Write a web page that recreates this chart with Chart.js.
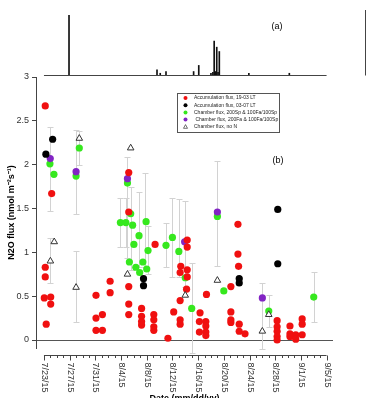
<!DOCTYPE html>
<html>
<head>
<meta charset="utf-8">
<script src="https://cdn.jsdelivr.net/npm/chart.js@4"></script>
<style>
  body { margin: 0; background: #fff; }
  #wrap { position: relative; width: 367px; height: 398px; overflow: hidden; }
  #b { position: absolute; left: 0; top: 0; }
  #a { position: absolute; left: 0; top: 0; }
</style>
</head>
<body>
<div id="wrap">
  <canvas id="b" width="367" height="398"></canvas>
  <canvas id="a" width="367" height="80"></canvas>
</div>
<script>
// x values are days since 7/23/15
const xMin = -1.24, xMax = 45;
const tickDays = [0, 4, 8, 12, 16, 20, 24, 28, 32, 36, 40, 44];
const tickLabels = ['7/23/15', '7/27/15', '7/31/15', '8/4/15', '8/8/15', '8/12/15',
                    '8/16/15', '8/20/15', '8/24/15', '8/28/15', '9/1/15', '9/5/15'];
const yTicks = [0, 0.5, 1, 1.5, 2, 2.5, 3];

// panel (a) spikes
const spikeDays = [3.9, 17.6, 18.1, 19.0, 23.3, 24.1, 26.0, 26.3, 26.5, 26.7, 26.9, 27.1, 27.3, 31.9, 38.2];
const spikeVals = [69, 6, 2, 4, 4, 11, 2, 3, 39, 4, 32, 3, 27, 2, 2];

// panel (b)
const redDays = [0.2, 1.2, 0.2, 0.2, 0.05, 1.05, 1.05, 0.35, 8.1, 8.1, 9.1, 8.1, 9.1, 10.3, 10.3,
  13.2, 13.2, 13.2, 13.2, 13.2, 15.2, 15.2, 15.2, 15.2, 17.3, 17.1, 17.1, 17.1, 17.1, 19.3, 20.2,
  21.3, 21.2, 21.2, 21.2, 21.2, 22.3, 22.3, 22.3, 22.3, 22.2, 24.3, 24.2, 24.2, 25.2, 25.2, 25.2,
  25.2, 25.3, 29.1, 29.1, 29.1, 29.1, 30.2, 30.2, 30.3, 30.4, 30.4, 31.3, 36.3, 36.3, 36.3, 36.3,
  36.3, 38.3, 38.3, 38.3, 39.2, 39.2, 40.2, 40.2, 40.2];
const redVals = [2.67, 1.67, 0.83, 0.72, 0.48, 0.49, 0.41, 0.18, 0.51, 0.25, 0.29, 0.11, 0.11, 0.67, 0.54,
  1.91, 1.46, 0.61, 0.41, 0.29, 0.36, 0.27, 0.21, 0.17, 1.09, 0.29, 0.23, 0.15, 0.11, 0.02, 0.32,
  0.84, 0.77, 0.45, 0.23, 0.18, 1.14, 1.06, 0.80, 0.72, 0.58, 0.31, 0.21, 0.09, 0.21, 0.16, 0.09,
  0.05, 0.52, 0.61, 0.32, 0.23, 0.20, 1.32, 0.98, 0.84, 0.18, 0.10, 0.07, 0.22, 0.15, 0.10, 0.04,
  0.00, 0.16, 0.07, 0.04, 0.06, 0.01, 0.24, 0.18, 0.06];

const blackDays = [0.3, 1.35, 15.5, 15.5, 30.4, 30.4, 36.4, 36.4];
const blackVals = [2.12, 2.29, 0.70, 0.62, 0.70, 0.65, 1.49, 0.87];

const greenDays = [0.93, 1.55, 5.0, 5.5, 13.0, 13.5, 11.9, 12.75, 13.8, 14.8, 14.0, 15.9, 16.2, 13.3,
  14.3, 15.4, 14.9, 16.0, 19.0, 20.0, 21.0, 22.0, 23.0, 27.0, 28.0, 35.0, 42.0];
const greenVals = [2.01, 1.89, 1.87, 2.19, 1.79, 1.44, 1.34, 1.34, 1.31, 1.19, 1.09, 1.35, 1.02, 0.89,
  0.83, 0.89, 0.77, 0.81, 1.08, 1.17, 1.01, 0.71, 0.36, 1.41, 0.56, 0.33, 0.49];

const purpleDays = [0.98, 5.0, 13.0, 21.9, 27.0, 34.0];
const purpleVals = [2.07, 1.92, 1.84, 1.12, 1.46, 0.48];

const triDays = [1.6, 1.0, 5.5, 5.0, 13.5, 13.0, 22.0, 27.0, 34.0, 35.0];
const triVals = [1.12, 0.90, 2.30, 0.60, 2.19, 0.75, 0.51, 0.68, 0.10, 0.29];

// error bars (day, low, high)
const errDays = [0.95, 1.0, 5.0, 5.0, 5.5, 11.9, 12.75, 13.0, 13.6, 14.8, 15.7, 16.2, 19.0, 20.0,
  21.0, 22.0, 23.0, 27.0, 34.0, 35.0, 42.0];
const errLow = [1.47, 0.65, 1.44, 0.21, 2.00, 1.06, 1.06, 0.93, 0.80, 0.83, 0.83, 0.75, 0.83, 0.72,
  0.72, 0.60, -0.15, 0.84, -0.10, 0.15, 0.20];
const errHigh = [2.43, 1.16, 2.40, 1.01, 2.38, 1.62, 1.62, 2.09, 1.75, 1.69, 1.90, 1.30, 1.33, 1.62,
  1.61, 1.59, 0.88, 2.04, 0.65, 0.51, 0.78];

const FONT = '"Liberation Sans", Arial, sans-serif';
const pts = (xs, ys) => xs.map((d, i) => ({x: d, y: ys[i]}));

const errorBars = {
  id: 'errorBars',
  beforeDatasetsDraw(chart) {
    const {ctx, scales: {x, y}} = chart;
    ctx.save();
    ctx.strokeStyle = '#d2d2d2';
    ctx.lineWidth = 1;
    ctx.beginPath();
    errDays.forEach((d, i) => {
      const px = Math.round(x.getPixelForValue(d)) + 0.5;
      const y1 = Math.round(y.getPixelForValue(errLow[i])) + 0.5;
      const y2 = Math.round(y.getPixelForValue(errHigh[i])) + 0.5;
      ctx.moveTo(px, y1); ctx.lineTo(px, y2);
      ctx.moveTo(px - 3, y1); ctx.lineTo(px + 3, y1);
      ctx.moveTo(px - 3, y2); ctx.lineTo(px + 3, y2);
    });
    ctx.stroke();
    ctx.restore();
  }
};

const dateAxis = {
  id: 'dateAxis',
  afterDraw(chart) {
    const {ctx, scales: {x}} = chart;
    const ya = 355.5;
    ctx.save();
    ctx.strokeStyle = '#444';
    ctx.lineWidth = 1;
    ctx.beginPath();
    ctx.moveTo(x.getPixelForValue(0), ya);
    ctx.lineTo(x.getPixelForValue(44), ya);
    for (let d = 0; d <= 44; d++) {
      const px = Math.round(x.getPixelForValue(d)) + 0.5;
      ctx.moveTo(px, ya);
      ctx.lineTo(px, ya + (d % 4 === 0 ? 5 : 2.5));
    }
    ctx.stroke();
    ctx.fillStyle = '#333';
    ctx.font = '9px ' + FONT;
    ctx.textAlign = 'left';
    ctx.textBaseline = 'middle';
    tickDays.forEach((d, i) => {
      ctx.save();
      ctx.translate(x.getPixelForValue(d) + 0.5, ya + 7);
      ctx.rotate(Math.PI / 2);
      ctx.fillText(tickLabels[i], 0, 0);
      ctx.restore();
    });
    ctx.fillStyle = '#000';
    ctx.font = 'bold 9px ' + FONT;
    ctx.textAlign = 'center';
    ctx.textBaseline = 'top';
    ctx.fillText('Date (mm/dd/yy)', (chart.chartArea.left + chart.chartArea.right) / 2, 394);
    ctx.font = '9px ' + FONT;
    ctx.textBaseline = 'middle';
    ctx.fillText('(b)', 278, 161);
    ctx.restore();
  }
};

const boxLegend = {
  id: 'boxLegend',
  afterDraw(chart) {
    const {ctx} = chart;
    const bx = 177.5, by = 93.5, bw = 102, bh = 39;
    ctx.save();
    ctx.fillStyle = '#fff';
    ctx.fillRect(bx, by, bw, bh);
    ctx.strokeStyle = '#555';
    ctx.lineWidth = 1;
    ctx.strokeRect(bx, by, bw, bh);
    ctx.font = '5px ' + FONT;
    ctx.textBaseline = 'middle';
    ctx.textAlign = 'left';
    chart.data.datasets.forEach((ds, i) => {
      const cy = 98 + i * 7.2, cx = 185.5;
      ctx.beginPath();
      if (ds.pointStyle === 'triangle') {
        ctx.moveTo(cx, cy - 2.2); ctx.lineTo(cx + 2, cy + 1.5); ctx.lineTo(cx - 2, cy + 1.5); ctx.closePath();
        ctx.fillStyle = '#fff'; ctx.fill();
        ctx.strokeStyle = '#333'; ctx.lineWidth = 0.7; ctx.stroke();
      } else {
        ctx.arc(cx, cy, 2, 0, Math.PI * 2);
        ctx.fillStyle = ds.backgroundColor; ctx.fill();
      }
      ctx.fillStyle = '#222';
      ctx.fillText(ds.label, 194, cy);
    });
    ctx.restore();
  }
};

const dot = (label, xs, ys, color, order) => ({
  label, data: pts(xs, ys), order,
  backgroundColor: color, borderWidth: 0, pointRadius: 3.6, pointHoverRadius: 3.6
});

new Chart('b', {
  type: 'scatter',
  data: {
    datasets: [
      dot('Accumulation flux, 19-03 LT', redDays, redVals, '#f01010', 1),
      dot('Accumulation flux, 03-07 LT', blackDays, blackVals, '#000000', 2),
      dot('Chamber flux, 200Sp & 100Fa/100Sp', greenDays, greenVals, '#36e81e', 4),
      dot(' Chamber flux, 200Fa & 100Fa/100Sp', purpleDays, purpleVals, '#8224c4', 3),
      {
        label: 'Chamber flux, no N', data: pts(triDays, triVals), order: 0,
        pointStyle: 'triangle', pointRadius: 3.8, pointHoverRadius: 3.8,
        backgroundColor: '#fff', borderColor: '#333', borderWidth: 1
      }
    ]
  },
  options: {
    responsive: false,
    animation: false,
    layout: {padding: {top: 77, bottom: 50, right: 34, left: 0}},
    plugins: {legend: {display: false}, tooltip: {enabled: false}},
    scales: {
      x: {type: 'linear', min: xMin, max: xMax, display: false},
      y: {
        min: -0.0912, max: 3,
        afterBuildTicks: scale => { scale.ticks = yTicks.map(v => ({value: v})); },
        afterFit: scale => { scale.width = 36; },
        border: {display: true, color: '#444', width: 1},
        grid: {
          color: c => c.tick && c.tick.value === 0 ? '#555' : 'transparent',
          tickColor: '#444', tickLength: 4, drawOnChartArea: true
        },
        ticks: {color: '#333', padding: 3, font: {family: FONT, size: 9},
                callback: v => String(v)},
        title: {display: true, text: 'N2O flux (nmol m\u207B\u00B2s\u207B\u00B9)', color: '#000',
                font: {family: FONT, size: 9, weight: 'bold'}, padding: {top: 6, bottom: 0}}
      }
    }
  },
  plugins: [errorBars, dateAxis, boxLegend]
});

const panelA = {
  id: 'panelA',
  afterDraw(chart) {
    const {ctx, scales: {x, y}} = chart;
    ctx.save();
    ctx.strokeStyle = '#444';
    ctx.lineWidth = 1;
    ctx.beginPath();
    const by = Math.round(y.getPixelForValue(0)) + 0.5;
    ctx.moveTo(x.getPixelForValue(0), by);
    ctx.lineTo(x.getPixelForValue(44), by);
    ctx.moveTo(chart.width - 1.5, 10);
    ctx.lineTo(chart.width - 1.5, by);
    ctx.stroke();
    ctx.fillStyle = '#000';
    ctx.font = '9px ' + FONT;
    ctx.textAlign = 'center';
    ctx.textBaseline = 'middle';
    ctx.fillText('(a)', 277, 27);
    ctx.restore();
  }
};

new Chart('a', {
  type: 'bar',
  data: {
    datasets: [{
      data: pts(spikeDays, spikeVals),
      backgroundColor: '#111', barThickness: 1, borderWidth: 0
    }]
  },
  options: {
    responsive: false,
    animation: false,
    layout: {padding: {top: 15, bottom: 5, left: 36, right: 34}},
    plugins: {legend: {display: false}, tooltip: {enabled: false}},
    scales: {
      x: {type: 'linear', min: xMin, max: xMax, display: false, offset: false},
      y: {min: 0, max: 69, display: false}
    }
  },
  plugins: [panelA]
});
</script>
</body>
</html>
